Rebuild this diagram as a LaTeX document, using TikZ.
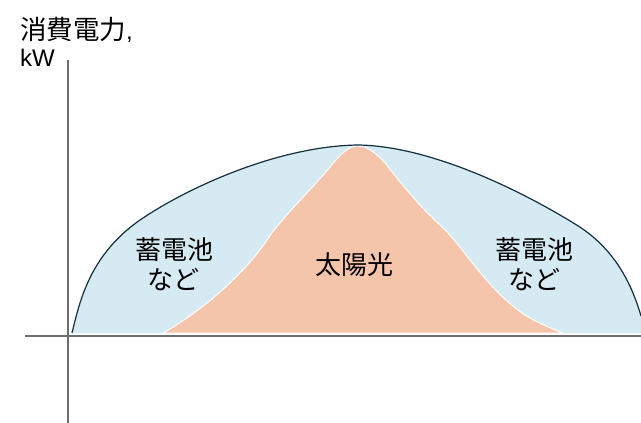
\documentclass[tikz,border=0pt]{standalone}
\usepackage{fontspec}
\setmainfont{Liberation Sans}
\newfontfamily\cjk{Noto Sans CJK JP}
\definecolor{skyfill}{HTML}{D5EAF2}
\definecolor{sunfill}{HTML}{F5C5AB}
\definecolor{curveink}{HTML}{12303F}
\definecolor{axisink}{HTML}{6E6E6E}
\def\outerpath{(72,333) .. controls (80,300) and (90,255) .. (140,220) .. controls (190,186) and (280,146) .. (358,145) .. controls (430,146) and (520,190) .. (575,224) .. controls (615,248) and (632,285) .. (641,316)}
\begin{document}
\begin{tikzpicture}[x=1pt,y=-1pt,
 axisline/.style={draw=axisink,line width=1.5pt},
 lbl/.style={font=\cjk\fontsize{26}{30}\selectfont,align=center,text=black,inner sep=0pt},
 hd/.style={font=\fontsize{24}{28}\selectfont,anchor=west,inner sep=0pt,text=black}]
\useasboundingbox (0,0) rectangle (641,423);
\fill[white] (0,0) rectangle (641,423);
\fill[skyfill] \outerpath -- (641,333) -- cycle;
\fill[sunfill,draw=white,line width=1pt] (163,333) .. controls (195,315) and (240,280) .. (267,240) .. controls (283,216) and (313,188) .. (330,167) .. controls (340,155) and (348,146) .. (358,146) .. controls (368,146) and (378,155) .. (385,163) .. controls (400,182) and (420,207) .. (440,225) .. controls (465,248) and (485,288) .. (525,315) .. controls (538,323) and (550,328) .. (563,333) -- cycle;
\draw[curveink,line width=1.2pt] \outerpath;
\coordinate (xa) at (25,336); \coordinate (xb) at (641,336);
\coordinate (ya) at (68,60); \coordinate (yb) at (68,423);
\draw[axisline] (xa) -- (xb);
\draw[axisline] (ya) -- (yb);
\node[hd] (t1) at (20,30) {{\cjk\fontsize{26.5}{30}\selectfont 消費電力},};
\node[hd] (t2) at (20,58) {kW};
\node[lbl] (a) at (174,264) {蓄電池\\など};
\node[lbl] (b) at (354,265) {太陽光};
\node[lbl] (c) at (534,264) {蓄電池\\など};
\end{tikzpicture}
\end{document}
